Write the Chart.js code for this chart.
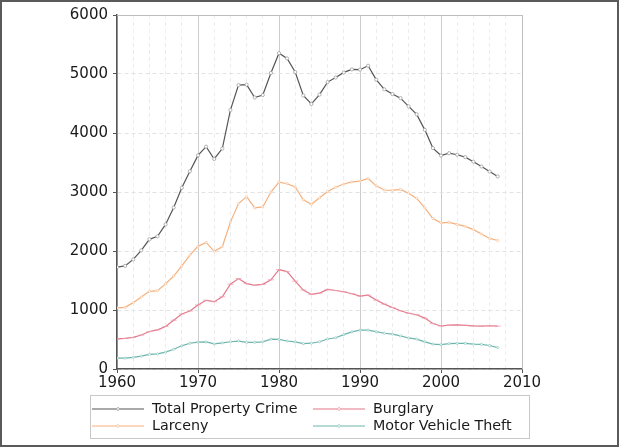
<!DOCTYPE html>
<html>
<head>
<meta charset="utf-8">
<script src="https://cdn.jsdelivr.net/npm/chart.js@4"></script>
<style>
  html, body { margin: 0; padding: 0; background: #fff; }
  #wrap { width: 619px; height: 447px; position: relative; }
</style>
</head>
<body>
<div id="wrap"><canvas id="c" width="619" height="447"></canvas></div>
<script>
const YEARS = [
  1960, 1961, 1962, 1963, 1964, 1965, 1966, 1967, 1968, 1969,
  1970, 1971, 1972, 1973, 1974, 1975, 1976, 1977, 1978, 1979,
  1980, 1981, 1982, 1983, 1984, 1985, 1986, 1987, 1988, 1989,
  1990, 1991, 1992, 1993, 1994, 1995, 1996, 1997, 1998, 1999,
  2000, 2001, 2002, 2003, 2004, 2005, 2006, 2007
];

const TOTAL = [
  1726, 1748, 1858, 2012, 2198, 2249, 2451, 2737, 3072, 3351,
  3621, 3769, 3560, 3737, 4389, 4811, 4820, 4602, 4643, 5017,
  5353, 5264, 5033, 4637, 4492, 4651, 4863, 4940, 5027, 5078,
  5073, 5140, 4904, 4740, 4660, 4591, 4451, 4316, 4053, 3744,
  3618, 3658, 3631, 3591, 3514, 3432, 3347, 3264
];

const LARCENY = [
  1035, 1045, 1125, 1219, 1316, 1329, 1443, 1576, 1747, 1931,
  2079, 2146, 1994, 2072, 2490, 2805, 2921, 2730, 2747, 2999,
  3167, 3140, 3085, 2869, 2791, 2901, 3010, 3081, 3135, 3171,
  3185, 3229, 3104, 3034, 3027, 3043, 2980, 2892, 2730, 2551,
  2477, 2486, 2451, 2417, 2362, 2288, 2213, 2178
];

const BURGLARY = [
  509, 519, 535, 576, 635, 663, 721, 827, 932, 984,
  1085, 1164, 1141, 1223, 1438, 1532, 1448, 1420, 1435, 1512,
  1684, 1650, 1489, 1338, 1264, 1287, 1350, 1330, 1309, 1276,
  1236, 1252, 1168, 1100, 1042, 987, 945, 919, 863, 770,
  729, 742, 747, 741, 730, 727, 733, 726
];

const MOTOR = [
  183, 184, 197, 217, 247, 257, 287, 334, 393, 436,
  457, 460, 426, 443, 462, 474, 450, 452, 461, 506,
  502, 475, 459, 431, 437, 462, 508, 529, 583, 630,
  658, 659, 632, 606, 591, 560, 526, 506, 460, 423,
  412, 431, 433, 434, 422, 417, 398, 363
];

const SERIES = [
  { label: "Total Property Crime", values: TOTAL, color: "#555555", point: "#a0a0a0", style: "circle", radius: 1.6 },
  { label: "Larceny", values: LARCENY, color: "#f5b07c", point: "#f7c6a2", style: "circle", radius: 1.1 },
  { label: "Burglary", values: BURGLARY, color: "#e3778a", point: "#ee9fac", style: "line", radius: 3 },
  { label: "Motor Vehicle Theft", values: MOTOR, color: "#6cb5ac", point: "#96cbc4", style: "circle", radius: 1.1 },
];

const FONT = "DejaVu Sans, Verdana, sans-serif";

function pointsFor(values) {
  return YEARS.map((yr, i) => ({ x: yr, y: values[i] }));
}

const datasets = SERIES.map(s => ({
  label: s.label,
  data: pointsFor(s.values),
  borderColor: s.color,
  backgroundColor: "#ffffff",
  borderWidth: 1.2,
  tension: 0,
  pointStyle: s.style,
  pointRadius: s.radius,
  pointBorderColor: s.point,
  pointBackgroundColor: "#ffffff",
  pointBorderWidth: 0.8,
  xAxisID: "x",
}));

// frame, legend box and outer border
const decorPlugin = {
  id: "decor",
  afterDraw(chart) {
    const ctx = chart.ctx;
    const a = chart.chartArea;
    ctx.save();
    // top and right spines
    ctx.strokeStyle = "#bdbdbd";
    ctx.lineWidth = 1;
    ctx.beginPath();
    ctx.moveTo(a.left, a.top + 0.5);
    ctx.lineTo(a.right + 0.5, a.top + 0.5);
    ctx.lineTo(a.right + 0.5, a.bottom);
    ctx.stroke();

    // legend
    const lx = 90, ly = 395, lw = 439, lh = 43;
    ctx.fillStyle = "#ffffff";
    ctx.fillRect(lx, ly, lw, lh);
    ctx.strokeStyle = "#c8c8c8";
    ctx.strokeRect(lx + 0.5, ly + 0.5, lw, lh);
    const cols = [[0, 1], [2, 3]];
    const colX = [92, 313];
    const rowY = [409, 426];
    ctx.font = "14.3px " + FONT;
    ctx.textBaseline = "middle";
    cols.forEach((col, ci) => {
      col.forEach((si, ri) => {
        const s = SERIES[si];
        const x0 = colX[ci], y0 = rowY[ri];
        ctx.strokeStyle = s.color;
        ctx.lineWidth = 1.2;
        ctx.beginPath();
        ctx.moveTo(x0, y0);
        ctx.lineTo(x0 + 52, y0);
        ctx.stroke();
        ctx.fillStyle = "#ffffff";
        ctx.strokeStyle = s.point;
        ctx.lineWidth = 0.8;
        ctx.beginPath();
        ctx.arc(x0 + 26, y0, 1.4, 0, Math.PI * 2);
        ctx.fill();
        ctx.stroke();
        ctx.fillStyle = "#1a1a1a";
        ctx.fillText(s.label, x0 + 60, y0 + 0.5);
      });
    });

    // outer image border
    ctx.strokeStyle = "#5a5a5a";
    ctx.lineWidth = 2;
    ctx.strokeRect(1, 1, chart.width - 2, chart.height - 2);
    ctx.restore();
  }
};

new Chart(document.getElementById("c"), {
  type: "line",
  data: { datasets },
  options: {
    responsive: false,
    animation: false,
    devicePixelRatio: 1,
    layout: { padding: { top: 15, right: 97, bottom: 48, left: 0 } },
    plugins: { legend: { display: false }, tooltip: { enabled: false } },
    scales: {
      x: {
        type: "linear",
        min: 1960,
        max: 2010,
        position: "bottom",
        afterFit: (s) => { s.height = 30; },
        ticks: {
          stepSize: 10, color: "#1a1a1a", font: { family: FONT, size: 15 }, padding: 1, maxRotation: 0,
          callback: (v) => String(v),
        },
        grid: { color: "#cccccc", lineWidth: 1, tickColor: "#555555", tickLength: 4 },
        border: { color: "#555555", width: 1.5 },
      },
      x2: {
        type: "linear",
        min: 1960,
        max: 2010,
        position: "bottom",
        afterFit: (s) => { s.height = 0; },
        ticks: { display: false, stepSize: 2 },
        grid: {
          drawTicks: false,
          lineWidth: 1,
          color: (c) => (c.tick && c.tick.value % 10 === 0) ? "rgba(0,0,0,0)" : "#ececec",
        },
        border: { display: false, dash: [4, 3] },
      },
      y: {
        min: 0,
        max: 6000,
        afterFit: (s) => { s.width = 117; },
        ticks: {
          stepSize: 1000, color: "#1a1a1a", font: { family: FONT, size: 15 }, padding: 5,
          callback: (v) => String(v),
        },
        grid: { color: "#e2e2e2", lineWidth: 1, tickColor: "#555555", tickLength: 4, tickBorderDash: [] },
        border: { color: "#555555", width: 1.5, dash: [4, 3] },
      },
    },
  },
  plugins: [decorPlugin],
});
</script>
</body>
</html>
